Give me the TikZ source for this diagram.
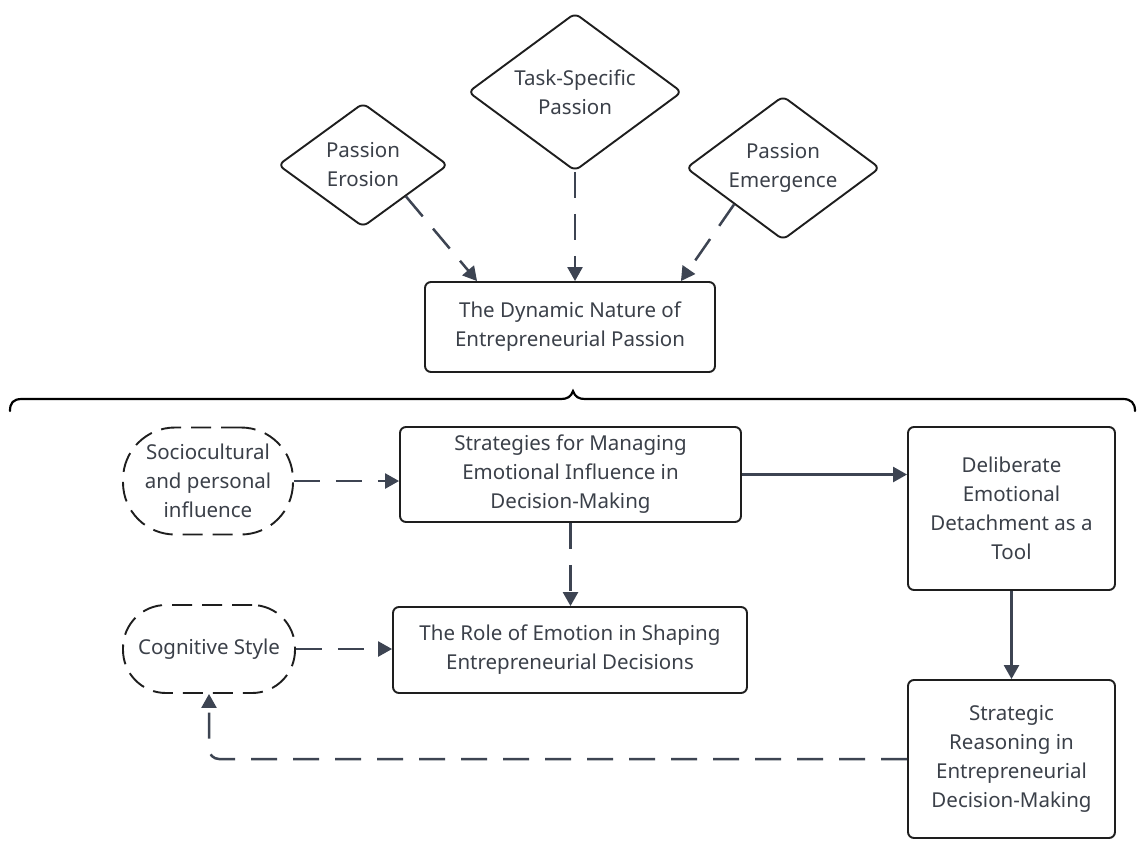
\documentclass[tikz,border=0pt]{standalone}
\usepackage{fontspec}
\setmainfont{Noto Sans}
\usetikzlibrary{shapes.geometric,arrows.meta,calc}
\definecolor{textgray}{HTML}{3B4049}
\definecolor{arrowgray}{HTML}{3D4452}
\definecolor{bordergray}{HTML}{1E1E1E}
\tikzset{
  txt/.style={text=textgray,font=\fontsize{20.5}{29}\selectfont,align=center},
  boxnode/.style={txt,draw=bordergray,line width=1.9pt,rounded corners=6pt,rectangle,inner sep=0pt},
  dia/.style={txt,draw=bordergray,line width=1.9pt,diamond,rounded corners=6pt,inner sep=0pt,aspect=1.4},
  dashblob/.style={txt,draw=bordergray,line width=1.9pt,rectangle,dash pattern=on 20pt off 10pt,inner sep=0pt},
  arr/.style={draw=arrowgray,line width=2.5pt,-{Triangle[length=14pt,width=15pt]}},
  darr/.style={arr,dash pattern=on 26pt off 16pt},
  bracepath/.style={draw=black,line width=2.2pt,line cap=round}
}
\begin{document}
\begin{tikzpicture}[x=1pt,y=-1pt]
\useasboundingbox[fill=white] (0,0) rectangle (1137,841);

% diamonds
\node[dia,minimum width=214pt,minimum height=158pt] (task) at (575,92) {Task-Specific\\Passion};
\node[dia,minimum width=170pt,minimum height=124pt] (ero) at (363,165) {Passion\\Erosion};
\node[dia,minimum width=194pt,minimum height=144pt] (emer) at (783,168) {Passion\\Emergence};

% top box
\node[boxnode,minimum width=290pt,minimum height=90pt] (dyn) at (570,327) {The Dynamic Nature of\\Entrepreneurial Passion};

% arrows into top box
\draw[darr] (ero.south east) -- ($(dyn.north west)+(53,0)$);
\draw[darr] (task.south) -- (task.south |- dyn.north);
\draw[darr] (emer.south west) -- ($(dyn.north east)+(-35,0)$);

% brace
\draw[bracepath] (10,411) .. controls (10,403) and (13,399) .. (22,399) -- (561,399)
  .. controls (567,399) and (571,397) .. (573,391)
  .. controls (575,397) and (579,399) .. (585,399) -- (1123,399)
  .. controls (1131,399) and (1135,403) .. (1135,411);

% lower nodes
\node[boxnode,minimum width=341pt,minimum height=95pt] (strat) at (570.5,474.5) {Strategies for Managing\\Emotional Influence in\\Decision-Making};
\node[dashblob,rounded corners=52pt,minimum width=170pt,minimum height=107pt] (socio) at (208,481) {Sociocultural\\and personal\\influence};
\node[boxnode,minimum width=207pt,minimum height=163pt] (delib) at (1011.5,508.5) {Deliberate\\Emotional\\Detachment as a\\Tool};
\node[boxnode,minimum width=354pt,minimum height=86pt] (role) at (570,650) {The Role of Emotion in Shaping\\Entrepreneurial Decisions};
\node[dashblob,rounded corners=43pt,minimum width=172pt,minimum height=88pt] (cog) at (209,649) {Cognitive Style};
\node[boxnode,minimum width=207pt,minimum height=158pt] (sreason) at (1011.5,759) {Strategic\\Reasoning in\\Entrepreneurial\\Decision-Making};

% connectors
\draw[darr] (socio.east) -- (socio.east -| strat.west);
\draw[arr] (strat.east) -- (strat.east -| delib.west);
\draw[darr] (strat.south) -- (strat.south |- role.north);
\draw[darr] (cog.east) -- (cog.east -| role.west);
\draw[arr] (delib.south) -- (sreason.north);
\draw[darr,rounded corners=10pt] (sreason.west) -| (cog.south);
\end{tikzpicture}
\end{document}
